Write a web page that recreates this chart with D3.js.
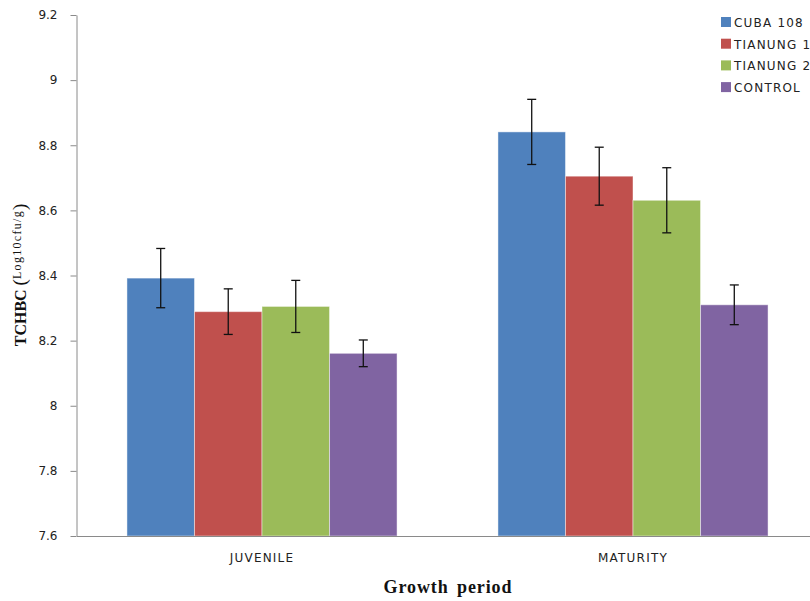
<!DOCTYPE html>
<html>
<head>
<meta charset="utf-8">
<script src="https://cdn.jsdelivr.net/npm/d3@7"></script>
<style>
  body { margin: 0; background: #fff; }
  svg { display: block; }
</style>
</head>
<body>
<div id="chart"></div>
<script>
// Growth period vs TCHBC, grouped bars with error bars

const periods = ["JUVENILE", "MATURITY"];
const seriesNames = ["CUBA 108", "TIANUNG 1", "TIANUNG 2", "CONTROL"];
const seriesColors = ["#4F81BD", "#C0504D", "#9BBB59", "#8064A2"];
// mean values per series, [juvenile, maturity]
const cuba108 = [8.392, 8.841];
const tianung1 = [8.289, 8.705];
const tianung2 = [8.305, 8.631];
const control = [8.161, 8.310];
// error bar half-widths
const cuba108Err = [0.091, 0.100];
const tianung1Err = [0.070, 0.089];
const tianung2Err = [0.080, 0.100];
const controlErr = [0.041, 0.061];
const yTicks = [7.6, 7.8, 8, 8.2, 8.4, 8.6, 8.8, 9, 9.2];

const width = 810;
const height = 601;
const margin = { top: 15, right: -8.5, bottom: 65, left: 76.5 };

const values = [cuba108, tianung1, tianung2, control];
const errors = [cuba108Err, tianung1Err, tianung2Err, controlErr];

const data = [];
seriesNames.forEach((s, i) => {
    periods.forEach((p, j) => {
        data.push({ series: s, period: p, value: values[i][j], err: errors[i][j], color: seriesColors[i] });
    });
});

const svg = d3.select("#chart")
    .append("svg")
    .attr("width", width)
    .attr("height", height);

const x0 = d3.scaleBand()
    .domain(periods)
    .range([margin.left, width - margin.right])
    .paddingInner(0.272)
    .paddingOuter(0.136);

const x1 = d3.scaleBand()
    .domain(seriesNames)
    .range([0, x0.bandwidth()]);

const y = d3.scaleLinear()
    .domain([7.6, 9.2])
    .range([height - margin.bottom, margin.top]);

// Bars
svg.append("g")
    .selectAll("rect")
    .data(data)
    .join("rect")
    .attr("x", d => x0(d.period) + x1(d.series))
    .attr("y", d => y(d.value))
    .attr("width", x1.bandwidth())
    .attr("height", d => y(7.6) - y(d.value))
    .attr("fill", d => d.color)
    .attr("stroke", "rgba(255,255,255,0.45)")
    .attr("stroke-width", 1);

// Error bars
const eb = svg.append("g")
    .attr("stroke", "#111")
    .attr("stroke-width", 1.3)
    .selectAll("g")
    .data(data)
    .join("g")
    .attr("transform", d => `translate(${x0(d.period) + x1(d.series) + x1.bandwidth() / 2},0)`);

eb.append("line")
    .attr("y1", d => y(d.value + d.err))
    .attr("y2", d => y(d.value - d.err));
eb.append("line")
    .attr("x1", -4.5).attr("x2", 4.5)
    .attr("y1", d => y(d.value + d.err))
    .attr("y2", d => y(d.value + d.err));
eb.append("line")
    .attr("x1", -4.5).attr("x2", 4.5)
    .attr("y1", d => y(d.value - d.err))
    .attr("y2", d => y(d.value - d.err));

// Y axis
svg.append("g")
    .attr("transform", `translate(${margin.left},0)`)
    .call(d3.axisLeft(y).tickValues(yTicks).tickFormat(d3.format("")).tickSize(6).tickSizeOuter(0).tickPadding(13))
    .call(g => g.selectAll("path, line").attr("stroke", "#8a8a8a"))
    .call(g => g.selectAll("text")
        .attr("font-family", "DejaVu Sans")
        .attr("font-size", 12)
        .attr("fill", "#222"));

// X axis
svg.append("g")
    .attr("transform", `translate(0,${height - margin.bottom})`)
    .call(d3.axisBottom(x0).tickSize(0).tickSizeOuter(0).tickPadding(17))
    .call(g => g.select(".domain").attr("stroke", "#8a8a8a"))
    .call(g => g.selectAll("text")
        .attr("font-family", "DejaVu Sans")
        .attr("font-size", 12)
        .attr("letter-spacing", 1.2)
        .attr("fill", "#222"));

// Axis titles
svg.append("text")
    .attr("x", 448)
    .attr("y", 593)
    .attr("text-anchor", "middle")
    .attr("font-family", "Liberation Serif")
    .attr("font-size", 18)
    .attr("font-weight", "bold")
    .attr("letter-spacing", 0.9)
    .attr("word-spacing", 3)
    .attr("fill", "#111")
    .text("Growth period");

const yTitle = svg.append("text")
    .attr("transform", "translate(26,275) rotate(-90)")
    .attr("text-anchor", "middle")
    .attr("font-family", "Liberation Serif")
    .attr("font-size", 16)
    .attr("font-weight", "bold")
    .attr("fill", "#111");
yTitle.append("tspan").text("TCHBC ");
yTitle.append("tspan").attr("font-size", 19).attr("font-weight", "normal").text("(");
yTitle.append("tspan").attr("font-size", 12).attr("font-weight", "normal")
    .attr("letter-spacing", 1.3).attr("dy", -5).text("Log10cfu/g");
yTitle.append("tspan").attr("font-size", 19).attr("font-weight", "normal").attr("dy", 5).text(")");

// Legend
const legend = svg.append("g")
    .attr("transform", "translate(721,17)");

legend.selectAll("g")
    .data(seriesNames)
    .join("g")
    .attr("transform", (d, i) => `translate(0,${i * 21.7})`)
    .call(g => {
        g.append("rect")
            .attr("width", 10)
            .attr("height", 10)
            .attr("fill", (d, i) => seriesColors[i]);
        g.append("text")
            .attr("x", 13)
            .attr("y", 10)
            .attr("font-family", "DejaVu Sans")
            .attr("font-size", 12)
            .attr("letter-spacing", 1.2)
            .attr("fill", "#222")
            .text(d => d);
    });
</script>
</body>
</html>
